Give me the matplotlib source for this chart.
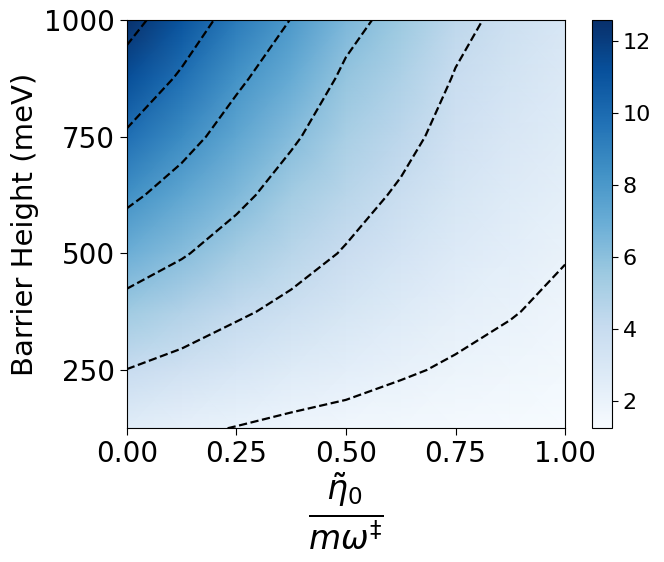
import numpy as np
import matplotlib.pyplot as plt

# friction ratio on x, barrier height on y
eta = [0.0, 0.125, 0.25, 0.375, 0.5, 0.625, 0.75, 0.875, 1.0]
barrier = [125, 250, 375, 500, 625, 750, 875, 1000]

# values, one row per barrier height
z_125 = [2.52, 2.21, 1.96, 1.74, 1.63, 1.53, 1.47, 1.37, 1.25]
z_250 = [3.98, 3.52, 3.08, 2.70, 2.39, 2.10, 1.89, 1.70, 1.52]
z_375 = [5.43, 4.83, 4.19, 3.67, 3.15, 2.68, 2.30, 2.05, 1.79]
z_500 = [6.88, 6.13, 5.30, 4.54, 3.90, 3.25, 2.71, 2.37, 2.05]
z_625 = [8.33, 7.33, 6.35, 5.36, 4.53, 3.83, 3.11, 2.69, 2.32]
z_750 = [9.79, 8.55, 7.31, 6.20, 5.13, 4.39, 3.51, 3.00, 2.58]
z_875 = [11.24, 9.77, 8.27, 7.08, 5.74, 4.94, 3.92, 3.32, 2.84]
z_1000 = [12.57, 10.99, 9.30, 7.96, 6.45, 5.50, 4.35, 3.64, 3.10]

levels = [2, 4, 6, 8, 10, 12]

Z = np.array([z_125, z_250, z_375, z_500, z_625, z_750, z_875, z_1000])
X, Y = np.meshgrid(eta, barrier)

fig = plt.figure(figsize=(6.64, 5.62), dpi=100)
ax = fig.add_axes([0.191, 0.238, 0.660, 0.726])
cax = fig.add_axes([0.892, 0.238, 0.030, 0.726])

mesh = ax.pcolormesh(X, Y, Z, cmap='Blues', shading='gouraud',
                     vmin=Z.min(), vmax=Z.max())
ax.contour(X, Y, Z, levels=levels, colors='k', linestyles='--', linewidths=1.6)

ax.set_xlim(0, 1)
ax.set_ylim(125, 1000)
ax.set_xticks([0, 0.25, 0.5, 0.75, 1.0])
ax.set_xticklabels(['0.00', '0.25', '0.50', '0.75', '1.00'])
ax.set_yticks([250, 500, 750, 1000])
ax.tick_params(labelsize=20, length=5)
ax.set_ylabel('Barrier Height (meV)', fontsize=21)
ax.set_xlabel(r'$\frac{\tilde{\eta}_0}{m\omega^{\ddagger}}$', fontsize=34, labelpad=2)

cb = fig.colorbar(mesh, cax=cax)
cb.set_ticks(levels)
cb.ax.tick_params(labelsize=16, length=4)

plt.savefig('out.png')
